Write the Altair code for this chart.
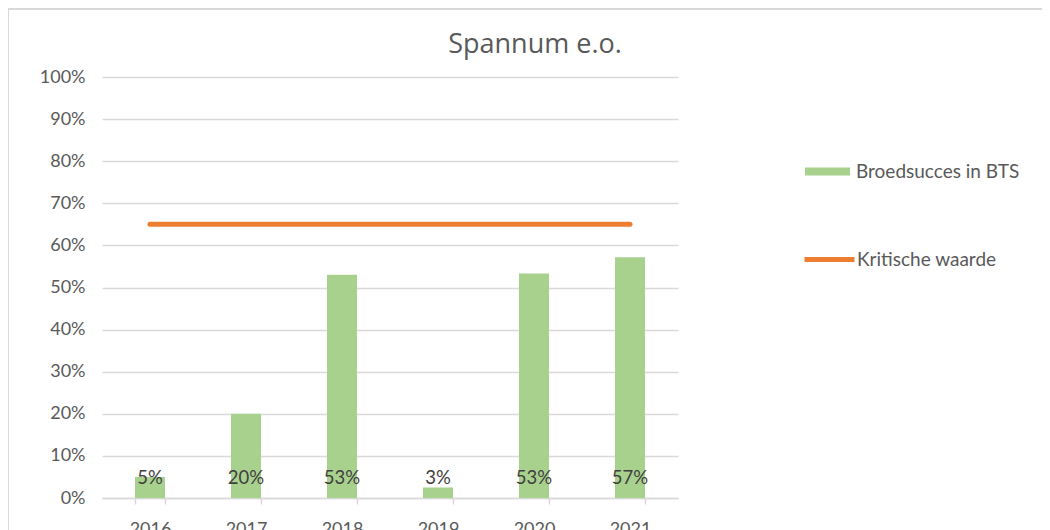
import altair as alt
import pandas as pd

years = ["2016", "2017", "2018", "2019", "2020", "2021"]
values = [0.05, 0.20, 0.53, 0.025, 0.533, 0.572]
labels = ["5%", "20%", "53%", "3%", "53%", "57%"]
critical = [0.65, 0.65, 0.65, 0.65, 0.65, 0.65]
bar_series = "Broedsucces in BTS"
line_series = "Kritische waarde"
title_text = ["Spannum e.o."]

df = pd.DataFrame({
    "year": years,
    "value": values,
    "label": labels,
    "critical": critical,
    "bar_series": [bar_series] * len(years),
    "line_series": [line_series] * len(years),
})
title_df = pd.DataFrame({"t": title_text})

FONT = "Lato"
GREY = "#595959"

x_enc = alt.X(
    "year:N",
    scale=alt.Scale(paddingInner=0.6875, paddingOuter=0.34375),
    axis=alt.Axis(
        title=None, labelAngle=0, grid=False,
        domainColor="#d9d9d9", domainWidth=1.5,
        ticks=True, tickColor="#d9d9d9", tickWidth=1.5, tickSize=6, tickBand="extent",
        labelPadding=16, labelFontSize=18, labelColor=GREY, labelFont=FONT,
    ),
)

y_scale = alt.Scale(domain=[0, 1])
y_axis = alt.Axis(
    title=None, format=".0%", values=[i / 10 for i in range(11)],
    grid=True, gridColor="#d9d9d9", gridWidth=1.5,
    domain=False, ticks=False, labelPadding=17,
    labelFontSize=18, labelColor=GREY, labelFont=FONT,
)

bars = alt.Chart(df).mark_bar().encode(
    x=x_enc,
    y=alt.Y("value:Q", scale=y_scale, axis=y_axis),
    color=alt.Color(
        "bar_series:N",
        scale=alt.Scale(domain=[bar_series], range=["#A9D18E"]),
        legend=alt.Legend(
            title=None, orient="none", legendX=703, legendY=72,
            symbolType="M-1,-0.18L1,-0.18L1,0.18L-1,0.18Z", symbolSize=2025,
            symbolStrokeWidth=0, labelFontSize=19, labelColor=GREY, labelFont=FONT,
            labelOffset=6, padding=0, labelLimit=300,
        ),
    ),
)

line = alt.Chart(df).mark_line(strokeWidth=5, strokeCap="round").encode(
    x="year:N",
    y=alt.Y("critical:Q", scale=y_scale),
    stroke=alt.Stroke(
        "line_series:N",
        scale=alt.Scale(domain=[line_series], range=["#ED7D31"]),
        legend=alt.Legend(
            title=None, orient="none", legendX=700, legendY=155,
            symbolType="stroke", symbolSize=2500, symbolStrokeWidth=5,
            labelFontSize=19, labelColor=GREY, labelFont=FONT,
            labelOffset=0, padding=0, labelLimit=300,
        ),
    ),
)

text = alt.Chart(df).mark_text(
    fontSize=18.5, font=FONT, color="#404040", baseline="middle", dy=1,
).encode(
    x="year:N",
    y=alt.datum(0.05),
    text="label:N",
)

title = alt.Chart(title_df).mark_text(
    fontSize=27, font="Open Sans", color=GREY, align="center",
    baseline="alphabetic", clip=False,
).encode(
    x=alt.value(433), y=alt.value(-24), text="t:N",
)

border = alt.Chart(df).mark_rect(
    fill=None, stroke="#d9d9d9", strokeWidth=2, clip=False,
).encode(
    x=alt.value(-94), x2=alt.value(1000),
    y=alt.value(-68), y2=alt.value(600),
)

chart = alt.layer(border, bars, line, text, title).resolve_scale(
    color="independent", stroke="independent"
).properties(
    width=576,
    height=421,
    autosize=alt.AutoSizeParams(type="none"),
    padding={"left": 94, "top": 69, "right": 364, "bottom": 40},
    background="white",
).configure_view(stroke=None)

chart.save("out.html", embed_options={"renderer": "svg", "actions": False})
